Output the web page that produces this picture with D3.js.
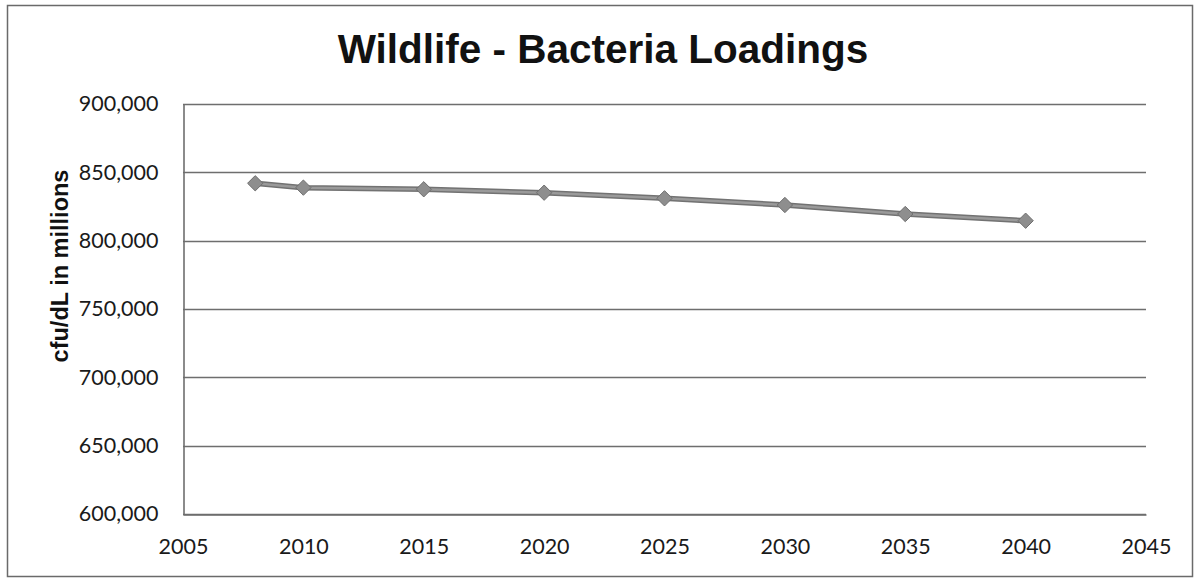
<!DOCTYPE html>
<html>
<head>
<meta charset="utf-8">
<script src="https://cdn.jsdelivr.net/npm/d3@7/dist/d3.min.js"></script>
<style>
  html, body { margin: 0; padding: 0; background: #fff; }
  svg { display: block; }
</style>
</head>
<body>
<svg id="chart" width="1194" height="579"></svg>
<script>
// Wildlife bacteria loadings by year (cfu/dL in millions)
const years = [2008, 2010, 2015, 2020, 2025, 2030, 2035, 2040];
const loadings = [842000, 838800, 837600, 835100, 831000, 826100, 819500, 814600];
const xTicks = [2005, 2010, 2015, 2020, 2025, 2030, 2035, 2040, 2045];
const yTicks = [600000, 650000, 700000, 750000, 800000, 850000, 900000];
const titleText = "Wildlife - Bacteria Loadings";
const yTitleText = "cfu/dL in millions";

const svg = d3.select("#chart");
const W = 1194, H = 579;
const plot = { left: 183, right: 1146, top: 104, bottom: 514 };

const x = d3.scaleLinear().domain([2005, 2045]).range([plot.left, plot.right]);
const y = d3.scaleLinear().domain([600000, 900000]).range([plot.bottom, plot.top]);

// chart frame
svg.append("rect")
  .attr("x", 7.5).attr("y", 5.5)
  .attr("width", 1185).attr("height", 571)
  .attr("fill", "#fff")
  .attr("stroke", "#6a6a6a").attr("stroke-width", 1.5);

// title
svg.append("text")
  .attr("x", 603).attr("y", 63)
  .attr("text-anchor", "middle")
  .attr("font-family", "Liberation Sans, Arial, sans-serif")
  .attr("font-weight", "bold")
  .attr("font-size", 40.5)
  .attr("fill", "#111")
  .text(titleText);

// horizontal gridlines
svg.append("g")
  .selectAll("line")
  .data(yTicks)
  .join("line")
  .attr("x1", plot.left).attr("x2", plot.right)
  .attr("y1", d => Math.round(y(d)) + 0.5).attr("y2", d => Math.round(y(d)) + 0.5)
  .attr("stroke", "#6e6e6e").attr("stroke-width", 1.6);

// y axis
const yAxis = svg.append("g")
  .attr("transform", `translate(${plot.left + 0.5},0)`)
  .call(d3.axisLeft(y).tickValues(yTicks).tickSize(0).tickPadding(25)
    .tickFormat(d3.format(",")));
yAxis.select(".domain").attr("stroke", "#6e6e6e").attr("stroke-width", 1.6);
yAxis.selectAll("text")
  .attr("font-family", "Lato, 'Open Sans', sans-serif")
  .attr("font-size", 21.5)
  .attr("fill", "#1a1a1a");

// x axis
const xAxis = svg.append("g")
  .attr("transform", `translate(0,${plot.bottom + 0.5})`)
  .call(d3.axisBottom(x).tickValues(xTicks).tickSize(0).tickPadding(24)
    .tickFormat(d3.format("d")));
xAxis.select(".domain").attr("stroke", "#6e6e6e").attr("stroke-width", 1.6);
xAxis.selectAll("text")
  .attr("font-family", "Lato, 'Open Sans', sans-serif")
  .attr("font-size", 21.5)
  .attr("fill", "#1a1a1a");

// y axis title
svg.append("text")
  .attr("transform", `translate(68,266) rotate(-90)`)
  .attr("text-anchor", "middle")
  .attr("font-family", "Liberation Sans, Arial, sans-serif")
  .attr("font-weight", "bold")
  .attr("font-size", 23.5)
  .attr("fill", "#111")
  .text(yTitleText);

// data series
const pts = years.map((yr, i) => [x(yr), y(loadings[i])]);
const line = d3.line();
svg.append("path")
  .attr("d", line(pts))
  .attr("fill", "none")
  .attr("stroke", "#727272").attr("stroke-width", 5.5)
  .attr("stroke-linejoin", "round");
svg.append("path")
  .attr("d", line(pts))
  .attr("fill", "none")
  .attr("stroke", "#9a9a9a").attr("stroke-width", 2.5)
  .attr("stroke-linejoin", "round");

const diamond = d3.symbol().type(d3.symbolDiamond2).size(150);
svg.append("g")
  .selectAll("path")
  .data(pts)
  .join("path")
  .attr("transform", d => `translate(${d[0]},${d[1]})`)
  .attr("d", diamond)
  .attr("fill", "#8e8e8e")
  .attr("stroke", "#6f6f6f").attr("stroke-width", 1);
</script>
</body>
</html>
